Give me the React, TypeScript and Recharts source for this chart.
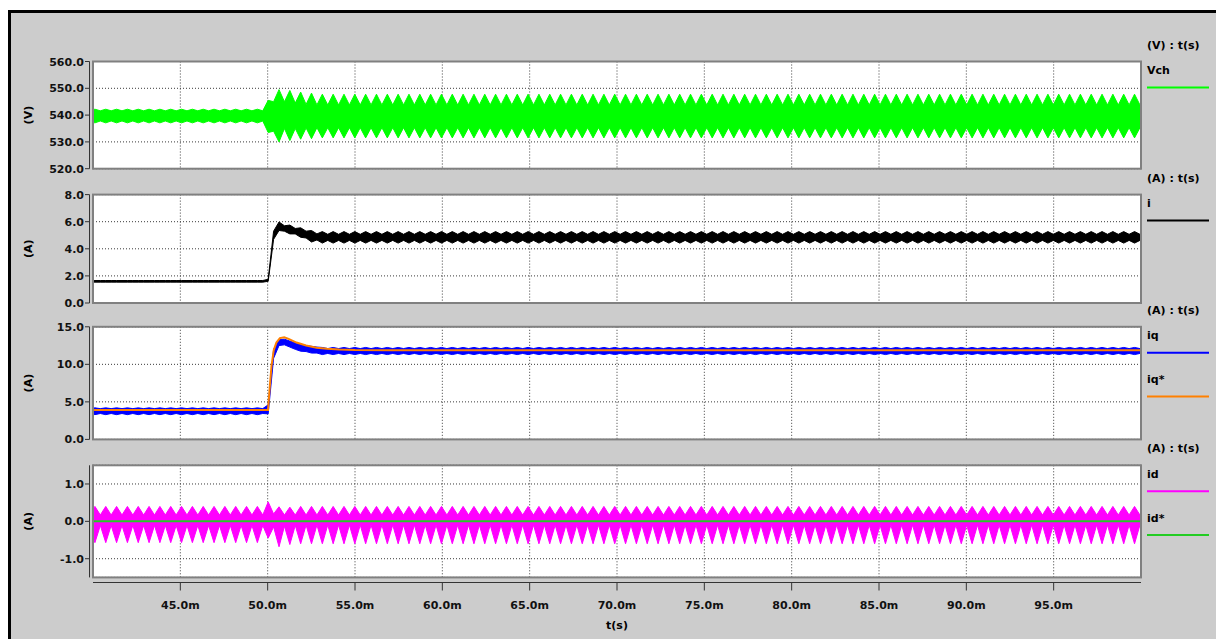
import React from 'react';
import { ComposedChart, Area, Line, XAxis, YAxis, CartesianGrid } from 'recharts';

// envelope samples every half ripple period (~0.62 ms ripple), first sample just left of 40 ms
const T0 = 39.8;
const HALF = 0.31;

const timeTicks = [45, 50, 55, 60, 65, 70, 75, 80, 85, 90, 95];
const vchTicks = [520, 530, 540, 550, 560];
const iTicks = [0, 2, 4, 6, 8];
const iqTicks = [0, 5, 10, 15];
const idTicks = [-1, 0, 1];

// Vch (V) upper / lower envelope
const vchHi = [
  541.6, 542.2, 541.6, 542.2, 541.6, 542.2, 541.6, 542.2, 541.6, 542.2, 541.6, 542.2, 541.6, 542.2, 541.6, 542.2, 541.6, 542.2, 541.6, 542.2,
  541.6, 542.2, 541.6, 542.2, 541.6, 542.2, 541.6, 542.2, 541.6, 542.2, 541.6, 542.2, 541.6,
  545.5, 545.0, 549.5, 545.0, 549.2, 544.5, 548.6, 544.0, 548.2, 543.8,
  547.8, 543.8, 547.8, 543.8, 547.8, 543.8, 547.8, 543.8, 547.8, 543.8, 547.8, 543.8, 547.8, 543.8, 547.8, 543.8, 547.8, 543.8, 547.8, 543.8,
  547.8, 543.8, 547.8, 543.8, 547.8, 543.8, 547.8, 543.8, 547.8, 543.8, 547.8, 543.8, 547.8, 543.8, 547.8, 543.8, 547.8, 543.8, 547.8, 543.8,
  547.8, 543.8, 547.8, 543.8, 547.8, 543.8, 547.8, 543.8, 547.8, 543.8, 547.8, 543.8, 547.8, 543.8, 547.8, 543.8, 547.8, 543.8, 547.8, 543.8,
  547.8, 543.8, 547.8, 543.8, 547.8, 543.8, 547.8, 543.8, 547.8, 543.8, 547.8, 543.8, 547.8, 543.8, 547.8, 543.8, 547.8, 543.8, 547.8, 543.8,
  547.8, 543.8, 547.8, 543.8, 547.8, 543.8, 547.8, 543.8, 547.8, 543.8, 547.8, 543.8, 547.8, 543.8, 547.8, 543.8, 547.8, 543.8, 547.8, 543.8,
  547.8, 543.8, 547.8, 543.8, 547.8, 543.8, 547.8, 543.8, 547.8, 543.8, 547.8, 543.8, 547.8, 543.8, 547.8, 543.8, 547.8, 543.8, 547.8, 543.8,
  547.8, 543.8, 547.8, 543.8, 547.8, 543.8, 547.8, 543.8, 547.8, 543.8, 547.8, 543.8, 547.8, 543.8, 547.8, 543.8, 547.8, 543.8, 547.8, 543.8,
  547.8, 543.8, 547.8, 543.8, 547.8, 543.8, 547.8, 543.8, 547.8, 543.8, 547.8, 543.8, 547.8,
];
const vchLo = [
  537.8, 537.1, 537.8, 537.1, 537.8, 537.1, 537.8, 537.1, 537.8, 537.1, 537.8, 537.1, 537.8, 537.1, 537.8, 537.1, 537.8, 537.1, 537.8, 537.1,
  537.8, 537.1, 537.8, 537.1, 537.8, 537.1, 537.8, 537.1, 537.8, 537.1, 537.8, 537.1, 537.8,
  533.5, 534.0, 530.0, 535.0, 530.5, 535.0, 531.0, 535.2, 531.2, 535.3,
  531.5, 535.3, 531.5, 535.3, 531.5, 535.3, 531.5, 535.3, 531.5, 535.3, 531.5, 535.3, 531.5, 535.3, 531.5, 535.3, 531.5, 535.3, 531.5, 535.3,
  531.5, 535.3, 531.5, 535.3, 531.5, 535.3, 531.5, 535.3, 531.5, 535.3, 531.5, 535.3, 531.5, 535.3, 531.5, 535.3, 531.5, 535.3, 531.5, 535.3,
  531.5, 535.3, 531.5, 535.3, 531.5, 535.3, 531.5, 535.3, 531.5, 535.3, 531.5, 535.3, 531.5, 535.3, 531.5, 535.3, 531.5, 535.3, 531.5, 535.3,
  531.5, 535.3, 531.5, 535.3, 531.5, 535.3, 531.5, 535.3, 531.5, 535.3, 531.5, 535.3, 531.5, 535.3, 531.5, 535.3, 531.5, 535.3, 531.5, 535.3,
  531.5, 535.3, 531.5, 535.3, 531.5, 535.3, 531.5, 535.3, 531.5, 535.3, 531.5, 535.3, 531.5, 535.3, 531.5, 535.3, 531.5, 535.3, 531.5, 535.3,
  531.5, 535.3, 531.5, 535.3, 531.5, 535.3, 531.5, 535.3, 531.5, 535.3, 531.5, 535.3, 531.5, 535.3, 531.5, 535.3, 531.5, 535.3, 531.5, 535.3,
  531.5, 535.3, 531.5, 535.3, 531.5, 535.3, 531.5, 535.3, 531.5, 535.3, 531.5, 535.3, 531.5, 535.3, 531.5, 535.3, 531.5, 535.3, 531.5, 535.3,
  531.5, 535.3, 531.5, 535.3, 531.5, 535.3, 531.5, 535.3, 531.5, 535.3, 531.5, 535.3, 531.5,
];

// i (A)
const iHi = [
  1.66, 1.66, 1.66, 1.66, 1.66, 1.66, 1.66, 1.66, 1.66, 1.66, 1.66, 1.66, 1.66, 1.66, 1.66, 1.66, 1.66, 1.66, 1.66, 1.66,
  1.66, 1.66, 1.66, 1.66, 1.66, 1.66, 1.66, 1.66, 1.66, 1.66, 1.66, 1.66, 1.66,
  1.75, 5.3, 5.98, 5.7, 5.75, 5.5, 5.55, 5.3, 5.35, 5.1,
  5.27, 5.07, 5.27, 5.07, 5.27, 5.07, 5.27, 5.07, 5.27, 5.07, 5.27, 5.07, 5.27, 5.07, 5.27, 5.07, 5.27, 5.07, 5.27, 5.07,
  5.27, 5.07, 5.27, 5.07, 5.27, 5.07, 5.27, 5.07, 5.27, 5.07, 5.27, 5.07, 5.27, 5.07, 5.27, 5.07, 5.27, 5.07, 5.27, 5.07,
  5.27, 5.07, 5.27, 5.07, 5.27, 5.07, 5.27, 5.07, 5.27, 5.07, 5.27, 5.07, 5.27, 5.07, 5.27, 5.07, 5.27, 5.07, 5.27, 5.07,
  5.27, 5.07, 5.27, 5.07, 5.27, 5.07, 5.27, 5.07, 5.27, 5.07, 5.27, 5.07, 5.27, 5.07, 5.27, 5.07, 5.27, 5.07, 5.27, 5.07,
  5.27, 5.07, 5.27, 5.07, 5.27, 5.07, 5.27, 5.07, 5.27, 5.07, 5.27, 5.07, 5.27, 5.07, 5.27, 5.07, 5.27, 5.07, 5.27, 5.07,
  5.27, 5.07, 5.27, 5.07, 5.27, 5.07, 5.27, 5.07, 5.27, 5.07, 5.27, 5.07, 5.27, 5.07, 5.27, 5.07, 5.27, 5.07, 5.27, 5.07,
  5.27, 5.07, 5.27, 5.07, 5.27, 5.07, 5.27, 5.07, 5.27, 5.07, 5.27, 5.07, 5.27, 5.07, 5.27, 5.07, 5.27, 5.07, 5.27, 5.07,
  5.27, 5.07, 5.27, 5.07, 5.27, 5.07, 5.27, 5.07, 5.27, 5.07, 5.27, 5.07, 5.27,
];
const iLo = [
  1.54, 1.54, 1.54, 1.54, 1.54, 1.54, 1.54, 1.54, 1.54, 1.54, 1.54, 1.54, 1.54, 1.54, 1.54, 1.54, 1.54, 1.54, 1.54, 1.54,
  1.54, 1.54, 1.54, 1.54, 1.54, 1.54, 1.54, 1.54, 1.54, 1.54, 1.54, 1.54, 1.54,
  1.6, 4.7, 5.35, 5.3, 5.1, 5.1, 4.85, 4.8, 4.5, 4.65,
  4.42, 4.62, 4.42, 4.62, 4.42, 4.62, 4.42, 4.62, 4.42, 4.62, 4.42, 4.62, 4.42, 4.62, 4.42, 4.62, 4.42, 4.62, 4.42, 4.62,
  4.42, 4.62, 4.42, 4.62, 4.42, 4.62, 4.42, 4.62, 4.42, 4.62, 4.42, 4.62, 4.42, 4.62, 4.42, 4.62, 4.42, 4.62, 4.42, 4.62,
  4.42, 4.62, 4.42, 4.62, 4.42, 4.62, 4.42, 4.62, 4.42, 4.62, 4.42, 4.62, 4.42, 4.62, 4.42, 4.62, 4.42, 4.62, 4.42, 4.62,
  4.42, 4.62, 4.42, 4.62, 4.42, 4.62, 4.42, 4.62, 4.42, 4.62, 4.42, 4.62, 4.42, 4.62, 4.42, 4.62, 4.42, 4.62, 4.42, 4.62,
  4.42, 4.62, 4.42, 4.62, 4.42, 4.62, 4.42, 4.62, 4.42, 4.62, 4.42, 4.62, 4.42, 4.62, 4.42, 4.62, 4.42, 4.62, 4.42, 4.62,
  4.42, 4.62, 4.42, 4.62, 4.42, 4.62, 4.42, 4.62, 4.42, 4.62, 4.42, 4.62, 4.42, 4.62, 4.42, 4.62, 4.42, 4.62, 4.42, 4.62,
  4.42, 4.62, 4.42, 4.62, 4.42, 4.62, 4.42, 4.62, 4.42, 4.62, 4.42, 4.62, 4.42, 4.62, 4.42, 4.62, 4.42, 4.62, 4.42, 4.62,
  4.42, 4.62, 4.42, 4.62, 4.42, 4.62, 4.42, 4.62, 4.42, 4.62, 4.42, 4.62, 4.42,
];

// iq (A) band
const iqHi = [
  4.1, 4.2, 4.1, 4.2, 4.1, 4.2, 4.1, 4.2, 4.1, 4.2, 4.1, 4.2, 4.1, 4.2, 4.1, 4.2, 4.1, 4.2, 4.1, 4.2,
  4.1, 4.2, 4.1, 4.2, 4.1, 4.2, 4.1, 4.2, 4.1, 4.2, 4.1, 4.2, 4.1,
  4.6, 12.0, 13.3, 13.35, 13.1, 12.85, 12.7, 12.5, 12.4, 12.3,
  12.25, 12.1, 12.25, 12.1, 12.25, 12.1, 12.25, 12.1, 12.25, 12.1, 12.25, 12.1, 12.25, 12.1, 12.25, 12.1, 12.25, 12.1, 12.25, 12.1,
  12.25, 12.1, 12.25, 12.1, 12.25, 12.1, 12.25, 12.1, 12.25, 12.1, 12.25, 12.1, 12.25, 12.1, 12.25, 12.1, 12.25, 12.1, 12.25, 12.1,
  12.25, 12.1, 12.25, 12.1, 12.25, 12.1, 12.25, 12.1, 12.25, 12.1, 12.25, 12.1, 12.25, 12.1, 12.25, 12.1, 12.25, 12.1, 12.25, 12.1,
  12.25, 12.1, 12.25, 12.1, 12.25, 12.1, 12.25, 12.1, 12.25, 12.1, 12.25, 12.1, 12.25, 12.1, 12.25, 12.1, 12.25, 12.1, 12.25, 12.1,
  12.25, 12.1, 12.25, 12.1, 12.25, 12.1, 12.25, 12.1, 12.25, 12.1, 12.25, 12.1, 12.25, 12.1, 12.25, 12.1, 12.25, 12.1, 12.25, 12.1,
  12.25, 12.1, 12.25, 12.1, 12.25, 12.1, 12.25, 12.1, 12.25, 12.1, 12.25, 12.1, 12.25, 12.1, 12.25, 12.1, 12.25, 12.1, 12.25, 12.1,
  12.25, 12.1, 12.25, 12.1, 12.25, 12.1, 12.25, 12.1, 12.25, 12.1, 12.25, 12.1, 12.25, 12.1, 12.25, 12.1, 12.25, 12.1, 12.25, 12.1,
  12.25, 12.1, 12.25, 12.1, 12.25, 12.1, 12.25, 12.1, 12.25, 12.1, 12.25, 12.1, 12.25,
];
const iqLo = [
  3.45, 3.3, 3.45, 3.3, 3.45, 3.3, 3.45, 3.3, 3.45, 3.3, 3.45, 3.3, 3.45, 3.3, 3.45, 3.3, 3.45, 3.3, 3.45, 3.3,
  3.45, 3.3, 3.45, 3.3, 3.45, 3.3, 3.45, 3.3, 3.45, 3.3, 3.45, 3.3, 3.45,
  3.4, 10.8, 12.5, 12.6, 12.3, 12.0, 11.75, 11.7, 11.5, 11.5,
  11.3, 11.45, 11.3, 11.45, 11.3, 11.45, 11.3, 11.45, 11.3, 11.45, 11.3, 11.45, 11.3, 11.45, 11.3, 11.45, 11.3, 11.45, 11.3, 11.45,
  11.3, 11.45, 11.3, 11.45, 11.3, 11.45, 11.3, 11.45, 11.3, 11.45, 11.3, 11.45, 11.3, 11.45, 11.3, 11.45, 11.3, 11.45, 11.3, 11.45,
  11.3, 11.45, 11.3, 11.45, 11.3, 11.45, 11.3, 11.45, 11.3, 11.45, 11.3, 11.45, 11.3, 11.45, 11.3, 11.45, 11.3, 11.45, 11.3, 11.45,
  11.3, 11.45, 11.3, 11.45, 11.3, 11.45, 11.3, 11.45, 11.3, 11.45, 11.3, 11.45, 11.3, 11.45, 11.3, 11.45, 11.3, 11.45, 11.3, 11.45,
  11.3, 11.45, 11.3, 11.45, 11.3, 11.45, 11.3, 11.45, 11.3, 11.45, 11.3, 11.45, 11.3, 11.45, 11.3, 11.45, 11.3, 11.45, 11.3, 11.45,
  11.3, 11.45, 11.3, 11.45, 11.3, 11.45, 11.3, 11.45, 11.3, 11.45, 11.3, 11.45, 11.3, 11.45, 11.3, 11.45, 11.3, 11.45, 11.3, 11.45,
  11.3, 11.45, 11.3, 11.45, 11.3, 11.45, 11.3, 11.45, 11.3, 11.45, 11.3, 11.45, 11.3, 11.45, 11.3, 11.45, 11.3, 11.45, 11.3, 11.45,
  11.3, 11.45, 11.3, 11.45, 11.3, 11.45, 11.3, 11.45, 11.3, 11.45, 11.3, 11.45, 11.3,
];

// iq* reference (A)
const iqRefT = [40, 50.02, 50.12, 50.22, 50.35, 50.5, 50.7, 50.95, 51.2, 51.65, 52.2, 52.8, 53.4, 54.1, 55.0, 57.0, 100];
const iqRef = [3.92, 3.92, 7.0, 9.8, 11.9, 12.9, 13.5, 13.6, 13.4, 12.9, 12.5, 12.22, 12.08, 11.98, 11.9, 11.86, 11.86];

// id (A) band
const idHi = [
  0.17, 0.4, 0.17, 0.4, 0.17, 0.4, 0.17, 0.4, 0.17, 0.4, 0.17, 0.4, 0.17, 0.4, 0.17, 0.4, 0.17, 0.4, 0.17, 0.4,
  0.17, 0.4, 0.17, 0.4, 0.17, 0.4, 0.17, 0.4, 0.17, 0.4, 0.17, 0.4, 0.17,
  0.52, 0.2, 0.39, 0.17, 0.38, 0.17, 0.4, 0.17, 0.4, 0.17,
  0.4, 0.17, 0.4, 0.17, 0.4, 0.17, 0.4, 0.17, 0.4, 0.17, 0.4, 0.17, 0.4, 0.17, 0.4, 0.17, 0.4, 0.17, 0.4, 0.17,
  0.4, 0.17, 0.4, 0.17, 0.4, 0.17, 0.4, 0.17, 0.4, 0.17, 0.4, 0.17, 0.4, 0.17, 0.4, 0.17, 0.4, 0.17, 0.4, 0.17,
  0.4, 0.17, 0.4, 0.17, 0.4, 0.17, 0.4, 0.17, 0.4, 0.17, 0.4, 0.17, 0.4, 0.17, 0.4, 0.17, 0.4, 0.17, 0.4, 0.17,
  0.4, 0.17, 0.4, 0.17, 0.4, 0.17, 0.4, 0.17, 0.4, 0.17, 0.4, 0.17, 0.4, 0.17, 0.4, 0.17, 0.4, 0.17, 0.4, 0.17,
  0.4, 0.17, 0.4, 0.17, 0.4, 0.17, 0.4, 0.17, 0.4, 0.17, 0.4, 0.17, 0.4, 0.17, 0.4, 0.17, 0.4, 0.17, 0.4, 0.17,
  0.4, 0.17, 0.4, 0.17, 0.4, 0.17, 0.4, 0.17, 0.4, 0.17, 0.4, 0.17, 0.4, 0.17, 0.4, 0.17, 0.4, 0.17, 0.4, 0.17,
  0.4, 0.17, 0.4, 0.17, 0.4, 0.17, 0.4, 0.17, 0.4, 0.17, 0.4, 0.17, 0.4, 0.17, 0.4, 0.17, 0.4, 0.17, 0.4, 0.17,
  0.4, 0.17, 0.4, 0.17, 0.4, 0.17, 0.4, 0.17, 0.4, 0.17, 0.4, 0.17, 0.4,
];
const idLo = [
  -0.11, -0.57, -0.11, -0.57, -0.11, -0.57, -0.11, -0.57, -0.11, -0.57, -0.11, -0.57, -0.11, -0.57, -0.11, -0.57, -0.11, -0.57, -0.11, -0.57,
  -0.11, -0.57, -0.11, -0.57, -0.11, -0.57, -0.11, -0.57, -0.11, -0.57, -0.11, -0.57, -0.11,
  -0.45, -0.15, -0.68, -0.13, -0.62, -0.11, -0.6, -0.1, -0.6, -0.1,
  -0.6, -0.1, -0.6, -0.1, -0.6, -0.1, -0.6, -0.1, -0.6, -0.1, -0.6, -0.1, -0.6, -0.1, -0.6, -0.1, -0.6, -0.1, -0.6, -0.1,
  -0.6, -0.1, -0.6, -0.1, -0.6, -0.1, -0.6, -0.1, -0.6, -0.1, -0.6, -0.1, -0.6, -0.1, -0.6, -0.1, -0.6, -0.1, -0.6, -0.1,
  -0.6, -0.1, -0.6, -0.1, -0.6, -0.1, -0.6, -0.1, -0.6, -0.1, -0.6, -0.1, -0.6, -0.1, -0.6, -0.1, -0.6, -0.1, -0.6, -0.1,
  -0.6, -0.1, -0.6, -0.1, -0.6, -0.1, -0.6, -0.1, -0.6, -0.1, -0.6, -0.1, -0.6, -0.1, -0.6, -0.1, -0.6, -0.1, -0.6, -0.1,
  -0.6, -0.1, -0.6, -0.1, -0.6, -0.1, -0.6, -0.1, -0.6, -0.1, -0.6, -0.1, -0.6, -0.1, -0.6, -0.1, -0.6, -0.1, -0.6, -0.1,
  -0.6, -0.1, -0.6, -0.1, -0.6, -0.1, -0.6, -0.1, -0.6, -0.1, -0.6, -0.1, -0.6, -0.1, -0.6, -0.1, -0.6, -0.1, -0.6, -0.1,
  -0.6, -0.1, -0.6, -0.1, -0.6, -0.1, -0.6, -0.1, -0.6, -0.1, -0.6, -0.1, -0.6, -0.1, -0.6, -0.1, -0.6, -0.1, -0.6, -0.1,
  -0.6, -0.1, -0.6, -0.1, -0.6, -0.1, -0.6, -0.1, -0.6, -0.1, -0.6, -0.1, -0.6,
];

// id* reference (A)
const idRefT = [40, 100];
const idRef = [0, 0];

const rows = vchHi.map((_, k) => ({
  t: +(T0 + k * HALF).toFixed(3),
  vch: [vchLo[k], vchHi[k]],
  i: [iLo[k], iHi[k]],
  iq: [iqLo[k], iqHi[k]],
  id: [idLo[k], idHi[k]],
}));
const iqRefRows = iqRefT.map((t, k) => ({ t, v: iqRef[k] }));
const idRefRows = idRefT.map((t, k) => ({ t, v: idRef[k] }));

const FONT = '"DejaVu Sans", Verdana, sans-serif';
const W = 1216;
const H = 639;
const PLOT_L = 93;
const PLOT_R = 1141;
const AXIS_Y = 582.5;

const panels = [
  { top: 61.5, bottom: 168.7, unit: '(V)', header: '(V) : t(s)', domain: [520, 560], ticks: vchTicks, legend: [{ name: 'Vch', color: '#00ff00' }] },
  { top: 194.6, bottom: 303, unit: '(A)', header: '(A) : t(s)', domain: [0, 8], ticks: iTicks, legend: [{ name: 'i', color: '#000000' }] },
  { top: 326.8, bottom: 439.4, unit: '(A)', header: '(A) : t(s)', domain: [0, 15], ticks: iqTicks, legend: [{ name: 'iq', color: '#0000ff' }, { name: 'iq*', color: '#ff8000' }] },
  { top: 465.3, bottom: 577.4, unit: '(A)', header: '(A) : t(s)', domain: [-1.5, 1.5], ticks: idTicks, legend: [{ name: 'id', color: '#ff00ff' }, { name: 'id*', color: '#22cc22' }] },
];

const renderYTick = (props: any) => {
  const { y, payload } = props;
  return (
    <g>
      <line x1={85} x2={89.5} y1={y} y2={y} stroke="#333" />
      <text x={84} y={y + 4} textAnchor="end" fontFamily={FONT} fontWeight="bold" fontSize={11} fill="#111">
        {Number(payload.value).toFixed(1)}
      </text>
    </g>
  );
};

const renderXTick = (props: any) => {
  const { x, payload } = props;
  return (
    <g>
      <line x1={x} x2={x} y1={AXIS_Y} y2={AXIS_Y + 8} stroke="#333" />
      <text x={x} y={609} textAnchor="middle" fontFamily={FONT} fontWeight="bold" fontSize={11} fill="#111">
        {Number(payload.value).toFixed(1)}m
      </text>
    </g>
  );
};

function Panel({ idx, children }: { idx: number; children: React.ReactNode }) {
  const p = panels[idx];
  const last = idx === panels.length - 1;
  return (
    <div style={{ position: 'absolute', left: 0, top: 0 }}>
      <ComposedChart
        width={W}
        height={H}
        margin={{ top: p.top, right: W - PLOT_R, bottom: last ? H - p.bottom - 40 : H - p.bottom, left: PLOT_L - 60 }}
      >
        <CartesianGrid stroke="#3a3a3a" strokeDasharray="1 2" fill="#ffffff" fillOpacity={1} />
        <XAxis
          type="number"
          dataKey="t"
          domain={[40, 100]}
          ticks={timeTicks}
          interval={0}
          allowDataOverflow
          hide={!last}
          height={40}
          axisLine={false}
          tickLine={false}
          tick={renderXTick}
        />
        <YAxis
          type="number"
          domain={p.domain}
          ticks={p.ticks}
          interval={0}
          width={60}
          axisLine={false}
          tickLine={false}
          tickSize={6}
          tickMargin={2}
          tick={renderYTick}
          allowDataOverflow
        />
        {children}
      </ComposedChart>
    </div>
  );
}

export default function App() {
  return (
    <div style={{ position: 'absolute', left: 0, top: 0, width: W, height: H, background: '#ffffff', overflow: 'hidden' }}>
      <div
        style={{
          position: 'absolute', left: 8, top: 10, width: 1300, height: 700,
          background: '#cccccc', borderLeft: '3px solid #000', borderTop: '3px solid #000',
        }}
      />
      <Panel idx={0}>
        <Area data={rows} dataKey="vch" type="linear" stroke="#00ff00" strokeWidth={1} fill="#00ff00" fillOpacity={1} isAnimationActive={false} activeDot={false} />
      </Panel>
      <Panel idx={1}>
        <Area data={rows} dataKey="i" type="linear" stroke="#000000" strokeWidth={1} fill="#000000" fillOpacity={1} isAnimationActive={false} activeDot={false} />
      </Panel>
      <Panel idx={2}>
        <Area data={rows} dataKey="iq" type="linear" stroke="#0000ff" strokeWidth={1} fill="#0000ff" fillOpacity={1} isAnimationActive={false} activeDot={false} />
        <Line data={iqRefRows} dataKey="v" type="linear" stroke="#ff8000" strokeWidth={2} dot={false} isAnimationActive={false} />
      </Panel>
      <Panel idx={3}>
        <Area data={rows} dataKey="id" type="linear" stroke="#ff00ff" strokeWidth={1} fill="#ff00ff" fillOpacity={1} isAnimationActive={false} activeDot={false} />
        <Line data={idRefRows} dataKey="v" type="linear" stroke="#22cc22" strokeWidth={2} dot={false} isAnimationActive={false} />
      </Panel>
      <svg width={W} height={H} style={{ position: 'absolute', left: 0, top: 0 }}>
        {panels.map((p, n) => {
          const cy = (p.top + p.bottom) / 2;
          return (
            <g key={n} fontFamily={FONT} fontWeight="bold" fontSize={11} fill="#000">
              <rect x={PLOT_L} y={p.top} width={PLOT_R - PLOT_L} height={p.bottom - p.top} fill="none" stroke="#808080" strokeWidth={2} />
              <line x1={89.5} x2={89.5} y1={p.top} y2={p.bottom} stroke="#333" />
              <text x={32} y={cy} textAnchor="middle" transform={`rotate(-90 32 ${cy})`}>{p.unit}</text>
              <text x={1147} y={p.top - 13}>{p.header}</text>
              {p.legend.map((s, j) => (
                <g key={s.name}>
                  <text x={1147} y={p.top + 12.5 + 44 * j}>{s.name}</text>
                  <line x1={1147} x2={1209} y1={p.top + 26 + 43.6 * j} y2={p.top + 26 + 43.6 * j} stroke={s.color} strokeWidth={2} />
                </g>
              ))}
            </g>
          );
        })}
        <line x1={PLOT_L} x2={PLOT_R} y1={AXIS_Y} y2={AXIS_Y} stroke="#333" />
        <text x={617} y={628.5} textAnchor="middle" fontFamily={FONT} fontWeight="bold" fontSize={11} fill="#000">t(s)</text>
      </svg>
    </div>
  );
}
